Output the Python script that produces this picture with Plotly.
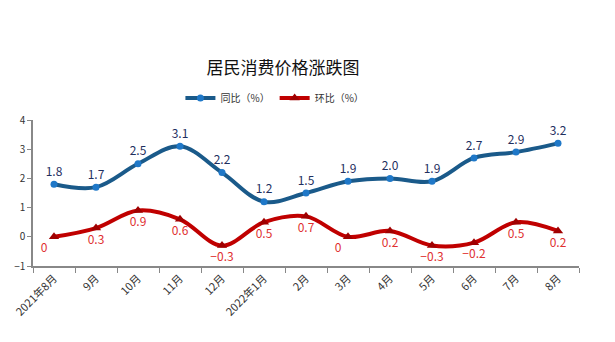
import plotly.graph_objects as go

categories = ["2021年8月", "9月", "10月", "11月", "12月", "2022年1月", "2月",
              "3月", "4月", "5月", "6月", "7月", "8月"]
yoy = [1.8, 1.7, 2.5, 3.1, 2.2, 1.2, 1.5, 1.9, 2.0, 1.9, 2.7, 2.9, 3.2]
mom = [0, 0.3, 0.9, 0.6, -0.3, 0.5, 0.7, 0, 0.2, -0.3, -0.2, 0.5, 0.2]
yticks = [-1, 0, 1, 2, 3, 4]

font = "Noto Sans CJK SC"
fig = go.Figure()
fig.add_trace(go.Scatter(
    x=categories, y=yoy, name="同比（%）", mode="lines+markers+text",
    line=dict(color="#1a5a8a", width=4, shape="spline", smoothing=1.0),
    marker=dict(color="#1f78c8", size=7, symbol="circle"),
    text=[f"{v:.1f}" for v in yoy], textposition="top center",
    textfont=dict(color="#1f2f5f", size=12, family=font),
))
mom_pos = ["bottom left"] + ["bottom center"] * 6 + ["bottom left"] + ["bottom center"] * 5
fig.add_trace(go.Scatter(
    x=categories, y=mom, name="环比（%）", mode="lines+markers+text",
    line=dict(color="#c00000", width=4, shape="spline", smoothing=1.0),
    marker=dict(color="#a00000", size=9, symbol="triangle-up"),
    text=[f"{v:g}".replace("-", "−") for v in mom], textposition=mom_pos,
    textfont=dict(color="#e03030", size=12, family=font),
))
fig.update_layout(
    width=615, height=342,
    margin=dict(l=33, r=36, t=120, b=76),
    paper_bgcolor="white", plot_bgcolor="white",
    font=dict(family=font, size=11, color="#333"),
    title=dict(text="居民消费价格涨跌图", x=0.46, xanchor="center", y=0.8, yanchor="middle",
               font=dict(size=17, color="#111", family=font)),
    legend=dict(orientation="h", x=0.27, y=1.15, xanchor="left", yanchor="middle",
                font=dict(size=10, color="#333"), itemwidth=30),
    showlegend=True,
)
fig.update_xaxes(type="category", showgrid=False, showline=True, linecolor="#888", linewidth=1.5,
                 ticks="outside", tickson="boundaries", ticklen=5, tickcolor="#888",
                 tickangle=-45, tickfont=dict(size=11, color="#333"),
                 range=[-0.5, 12.5])
fig.update_yaxes(range=[-1, 4], tickvals=yticks, showgrid=False, showline=True, linecolor="#888",
                 linewidth=1.5, ticks="outside", ticklen=4, tickcolor="#888", zeroline=False,
                 tickfont=dict(size=10, color="#333"))
fig.write_html("out.html")
